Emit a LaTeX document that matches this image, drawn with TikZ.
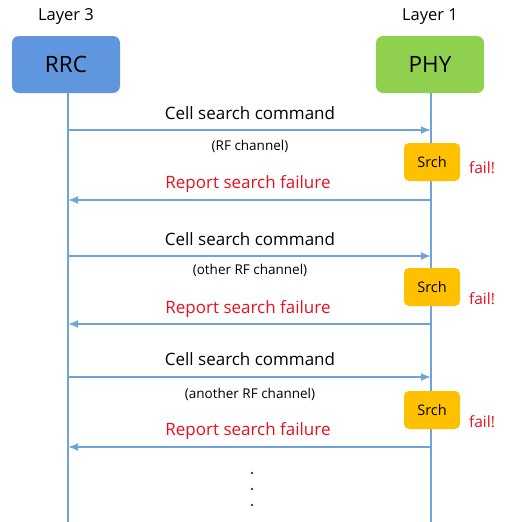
\documentclass[tikz,border=0pt]{standalone}
\usepackage{fontspec}
\setmainfont{Open Sans}
\usetikzlibrary{arrows.meta}
\definecolor{rrcblue}{HTML}{5F96DE}
\definecolor{phygreen}{HTML}{8FD14F}
\definecolor{lineblue}{HTML}{6FA3DC}
\definecolor{srchor}{HTML}{FFC000}
\definecolor{failred}{HTML}{E8101E}
\begin{document}
\begin{tikzpicture}[x=1pt,y=-1pt,
  entity/.style={draw=none,rounded corners=7pt,minimum width=108pt,minimum height=57pt,font=\fontsize{22.5}{24}\selectfont},
  srchbox/.style={fill=srchor,rounded corners=5pt,minimum width=56pt,minimum height=38pt,font=\fontsize{14.5}{16}\selectfont},
  life/.style={draw=lineblue,line width=2.4pt},
  msg/.style={draw=lineblue,line width=1.8pt,-{Latex[length=10pt,width=8pt]}},
  lbl/.style={font=\fontsize{17}{19}\selectfont},
  small/.style={font=\fontsize{13.5}{15}\selectfont},
  redlbl/.style={font=\fontsize{17}{19}\selectfont,text=failred},
  faillbl/.style={font=\fontsize{15.5}{17}\selectfont,text=failred}]
\useasboundingbox (0,0) rectangle (504,522);
\node[font=\fontsize{16.5}{18}\selectfont] (l3) at (66,17) {Layer 3};
\node[font=\fontsize{16.5}{18}\selectfont] (l1) at (430,17) {Layer 1};
\node[entity,fill=rrcblue] (rrc) at (66,64.5) {RRC};
\node[entity,fill=phygreen] (phy) at (430,64.5) {PHY};
\coordinate (rrcend) at (68,522);
\coordinate (phyend) at (431,522);
\draw[life] (68,93) -- (rrcend);
\draw[life] (431,93) -- (phyend);
% lifeline anchor points
\foreach \n/\y in {a1/130,b1/200,a2/256,b2/324,a3/377,b3/447}{
  \coordinate (L\n) at (68,\y);
  \coordinate (R\n) at (431,\y);
}
\node[srchbox] (s1) at (432,162) {Srch};
\node[srchbox] (s2) at (432,287) {Srch};
\node[srchbox] (s3) at (432,410) {Srch};
\draw[msg] (La1) -- (Ra1);
\draw[msg] (Rb1) -- (Lb1);
\draw[msg] (La2) -- (Ra2);
\draw[msg] (Rb2) -- (Lb2);
\draw[msg] (La3) -- (Ra3);
\draw[msg] (Rb3) -- (Lb3);
\node[lbl] (c1) at (250,113) {Cell search command};
\node[small] (r1) at (250,146) {(RF channel)};
\node[redlbl] (f1) at (248,184) {Report search failure};
\node[faillbl] (x1) at (482,168) {fail!};
\node[lbl] (c2) at (250,239) {Cell search command};
\node[small] (r2) at (250,270) {(other RF channel)};
\node[redlbl] (f2) at (248,309) {Report search failure};
\node[faillbl] (x2) at (482,299) {fail!};
\node[lbl] (c3) at (250,359) {Cell search command};
\node[small] (r3) at (250,394) {(another RF channel)};
\node[redlbl] (f3) at (248,431) {Report search failure};
\node[faillbl] (x3) at (482,422) {fail!};
\foreach \y/\k in {473/1,489/2,505/3}{
  \fill[black!75] (252,\y) circle (1.3pt) coordinate (d\k);
}
\end{tikzpicture}
\end{document}
